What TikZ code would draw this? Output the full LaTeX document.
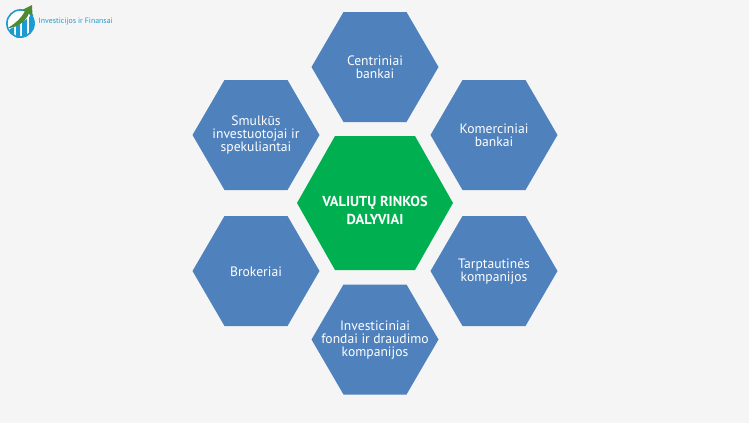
\documentclass[tikz,border=0pt]{standalone}
\usepackage{fontspec}
\setmainfont{PT Sans}
\definecolor{bgc}{HTML}{F5F5F5}
\definecolor{hexblue}{HTML}{4F81BD}
\definecolor{hexgreen}{HTML}{00B050}
\definecolor{logoblue}{HTML}{1B9BD1}
\definecolor{logogreen}{HTML}{4E8A2E}
\tikzset{
  x=1pt,y=-1pt,
  hexlabel/.style={align=center,text=white,font=\fontsize{13.6}{13}\selectfont,inner sep=0pt},
  centerlabel/.style={align=center,text=white,font=\fontsize{14.4}{17.5}\selectfont\bfseries,inner sep=0pt},
}
\newcommand{\bluehex}[4]{%
  \fill[hexblue] (#1-63.5,#2) -- (#1-31.5,#2-55) -- (#1+31.5,#2-55) -- (#1+63.5,#2) -- (#1+31.5,#2+55) -- (#1-31.5,#2+55) -- cycle;
  \node[hexlabel] (#3) at (#1,#2+0.5) {#4};}
\begin{document}
\begin{tikzpicture}
\useasboundingbox (0,0) rectangle (749,423);
\fill[bgc] (0,0) rectangle (749,423);
\bluehex{375}{67}{centrin}{Centriniai\\bankai}
\bluehex{494}{135}{komerc}{Komerciniai\\bankai}
\bluehex{494}{271}{tarpt}{Tarptautinės\\kompanijos}
\bluehex{375}{339.5}{invest}{Investiciniai\\fondai ir draudimo\\kompanijos}
\bluehex{256}{271}{brok}{Brokeriai}
\bluehex{256}{135}{smulk}{Smulkūs\\investuotojai ir\\spekuliantai}
\fill[hexgreen] (297,203) -- (335,136) -- (415,136) -- (453,203) -- (415,270) -- (335,270) -- cycle;
\node[centerlabel] (mid) at (375,210.5) {VALIUTŲ RINKOS\\DALYVIAI};
% logo
\fill[white] (20.5,23.5) circle (14.5);
\draw[logoblue,line width=1.6] (20.5,23.5) circle (13.6);
\fill[logoblue] (10,29) -- (14,27) -- (14,36) -- (10,33) -- cycle;
\fill[logoblue] (16,26) -- (20,24) -- (20,38) -- (16,37.5) -- cycle;
\fill[logoblue] (22,22) -- (27,19) -- (27,35.5) -- (22,37.5) -- cycle;
\fill[logoblue] (29,17) -- (33,14) -- (33,29) -- (29,34) -- cycle;
\fill[logogreen] (8,28) .. controls (14,24) and (21,19) .. (25,11) -- (22,10) -- (32,5) -- (32.5,16) -- (29,13) .. controls (26,22) and (16,28) .. (8,28) -- cycle;
\node[text=logoblue,font=\fontsize{7.8}{8}\selectfont,anchor=west,inner sep=0pt] (logotext) at (38.5,21.5) {Investicijos ir Finansai};
\end{tikzpicture}
\end{document}
